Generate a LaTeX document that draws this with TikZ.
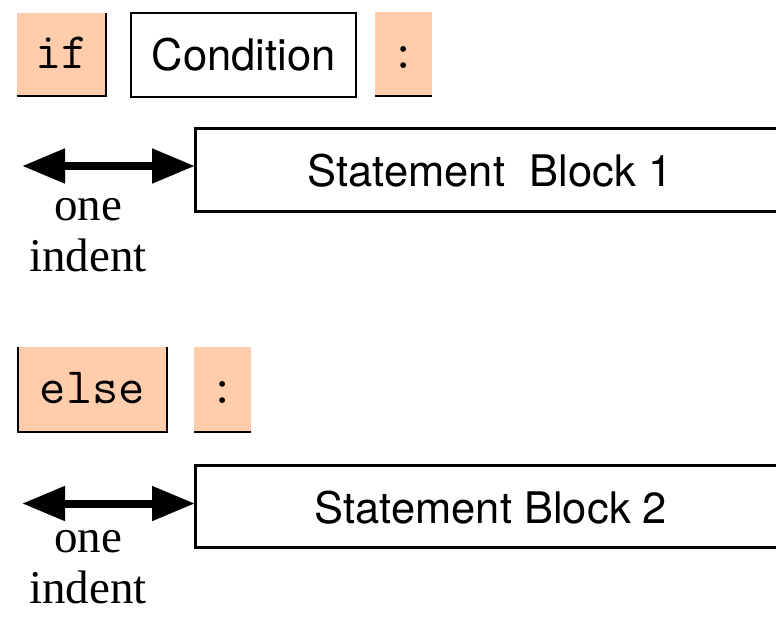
\documentclass[tikz,border=0pt]{standalone}
\usepackage{fontspec}
\setmainfont{Liberation Serif}
\setsansfont{TeX Gyre Heros}
\usetikzlibrary{arrows.meta}
\definecolor{peach}{RGB}{255,205,172}
\begin{document}
\begin{tikzpicture}[x=1pt,y=-1pt,
  kw/.style={fill=peach, draw=none, inner sep=0pt, outer sep=0pt, anchor=north west,
    font=\ttfamily\fontsize{51}{55}\selectfont},
  plainbox/.style={draw=black, line width=2.5pt, fill=white, inner sep=0pt, outer sep=0pt,
    anchor=north west, font=\sffamily\fontsize{43.5}{52}\selectfont},
  sbtext/.style={inner sep=0pt, anchor=base, font=\sffamily\fontsize{43.5}{52}\selectfont},
  edge/.style={draw=black, line width=2.5pt},
  indarrow/.style={line width=8pt, {Triangle[length=43pt,width=33pt]}-{Triangle[length=43pt,width=33pt]}},
  lbl/.style={font=\rmfamily\fontsize{47}{51}\selectfont, inner sep=0pt, anchor=south, align=center}
]
\useasboundingbox (0,0) rectangle (776,616);
\clip (0,0) rectangle (776,616);

% if row
\node[kw, minimum width=89pt, minimum height=83pt, text height=55pt, text depth=28pt] (ifkw) at (17,13) {if};
\draw[edge] (ifkw.north east) -- (ifkw.south east) -- (ifkw.south west);
\node[plainbox, minimum width=225pt, minimum height=84pt, text height=57pt, text depth=27pt] (cond) at (131,13) {Condition};
\node[kw, minimum width=57pt, minimum height=84pt, text height=56pt, text depth=28pt] (col1) at (375,12) {:};
\draw[edge] (col1.south west) -- (col1.south east);

% block 1
\node[plainbox, line width=3pt, minimum width=700pt, minimum height=83pt] (sb1) at (195,128) {};
\node[sbtext] (sb1t) at (490,186) {Statement\ \ Block 1};
\coordinate (ind1) at (22,166);
\draw[indarrow] (ind1) -- (ind1 -| sb1.west);
\node[lbl] (lab1) at (88,272) {one\\indent};

% else row
\node[kw, minimum width=149pt, minimum height=85pt, text height=56pt, text depth=29pt] (elsekw) at (18,347) {else};
\draw[edge] (elsekw.north west) -- (elsekw.south west) -- (elsekw.south east) -- (elsekw.north east);
\node[kw, minimum width=57pt, minimum height=85pt, text height=56pt, text depth=29pt] (col2) at (194,347) {:};
\draw[edge] (col2.south west) -- (col2.south east);

% block 2
\node[plainbox, line width=3pt, minimum width=700pt, minimum height=82pt] (sb2) at (195,465) {};
\node[sbtext] (sb2t) at (491,523) {Statement Block 2};
\coordinate (ind2) at (22,503.5);
\draw[indarrow] (ind2) -- (ind2 -| sb2.west);
\node[lbl] (lab2) at (88,604) {one\\indent};
\end{tikzpicture}
\end{document}
